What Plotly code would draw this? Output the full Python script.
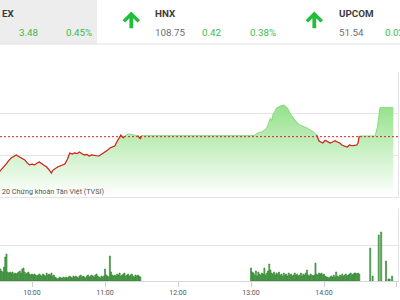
import plotly.graph_objects as go
import pandas as pd

DAY = "2020-06-01 "

# ---------------- data ----------------
ref_price = 773.24
price_times = [
    "09:33", "09:35", "09:37", "09:39", "09:41", "09:43", "09:45", "09:47", "09:48", "09:50",
    "09:52", "09:54", "09:56", "09:58", "10:00", "10:02", "10:04", "10:06", "10:08", "10:10",
    "10:12", "10:14", "10:15", "10:16", "10:17", "10:19", "10:21", "10:23", "10:25", "10:27",
    "10:29", "10:31", "10:33", "10:35", "10:37", "10:39", "10:41", "10:43", "10:45", "10:47",
    "10:49", "10:51", "10:53", "10:55", "10:57", "11:00", "11:02", "11:04", "11:06", "11:08",
    "11:10", "11:12", "11:13", "11:15", "11:16", "11:18", "11:20", "11:23", "11:27", "11:29",
    "11:30", "13:00", "13:03", "13:06", "13:09", "13:13", "13:15", "13:16", "13:17", "13:18",
    "13:20", "13:21", "13:24", "13:27", "13:29", "13:30", "13:32", "13:36", "13:40", "13:46",
    "13:51", "13:54", "13:56", "13:57", "13:59", "14:01", "14:02", "14:04", "14:05", "14:07",
    "14:09", "14:11", "14:13", "14:15", "14:17", "14:19", "14:21", "14:23", "14:25", "14:27",
    "14:28", "14:29", "14:42", "14:44", "14:46", "14:57",
]
price_values = [
    769.00, 769.30, 769.64, 770.00, 770.40, 770.70, 770.85, 771.05, 770.95, 770.80,
    770.60, 770.45, 770.10, 769.85, 769.95, 769.85, 770.05, 770.20, 770.00, 769.85,
    769.60, 769.25, 769.05, 768.88, 769.20, 769.45, 769.60, 769.72, 769.85, 769.96,
    770.50, 771.28, 771.15, 771.28, 771.20, 771.40, 771.20, 771.04, 771.10, 770.92,
    771.05, 771.04, 770.95, 770.92, 771.10, 771.40, 771.60, 771.88, 772.00, 772.12,
    772.70, 773.20, 773.44, 773.10, 773.30, 773.50, 773.56, 773.44, 773.38, 772.96,
    773.36, 773.36, 773.40, 773.72, 773.80, 774.28, 775.00, 775.48, 775.12, 775.84,
    776.40, 776.68, 776.92, 777.04, 776.80, 776.68, 776.08, 775.24, 774.64, 774.28,
    773.84, 773.44, 772.70, 772.64, 772.48, 772.80, 772.72, 772.55, 772.48, 772.60,
    772.75, 772.60, 772.48, 772.20, 772.10, 772.00, 772.24, 772.15, 772.20, 772.24,
    772.48, 773.32, 773.32, 774.44, 776.72, 776.72,
]

vol_morning = [
    12, 10, 9, 14, 24, 27, 9, 8, 9, 8,
    9, 7, 8, 7, 8, 9, 10, 8, 12, 13,
    9, 7, 8, 9, 7, 6, 7, 6, 7, 6,
    5, 6, 7, 6, 5, 7, 6, 5, 8, 6,
    7, 6, 8, 5, 6, 4, 3, 2, 3, 4,
    3, 3, 4, 3, 4, 3, 4, 5, 4, 3,
    5, 4, 5, 4, 3, 5, 6, 4, 5, 4,
    3, 5, 6, 4, 5, 6, 5, 4, 6, 7,
    5, 4, 3, 5, 4, 5, 12, 6, 5, 4,
    25, 9, 6, 5, 6, 5, 7, 6, 8, 5,
    6, 7, 8, 5, 6, 7, 5, 6, 7, 5,
    4, 6, 5, 6, 5, 4,
]
vol_afternoon = [
    13, 9, 8, 6, 10, 5, 9, 7, 6, 8,
    7, 13, 6, 8, 10, 17, 11, 8, 7, 9,
    6, 8, 7, 9, 6, 7, 5, 8, 6, 7,
    5, 8, 6, 7, 5, 6, 8, 6, 7, 5,
    6, 8, 5, 7, 6, 8, 11, 6, 5, 7,
    6, 5, 6, 18, 7, 6, 8, 7, 8, 6,
    7, 5, 4, 4, 3, 4, 5, 4, 6, 4,
    9, 5, 4, 6, 5, 7, 5, 6, 7, 5,
    6, 7, 8, 6, 7, 8, 8, 7, 8, 7,
]
atc_times = ["14:38", "14:40", "14:45", "14:47", "14:51", "14:53", "14:54", "14:56"]
atc_values = [33, 5, 46, 49, 20, 2, 2, 5]

tick_times = ["10:00", "11:00", "12:00", "13:00", "14:00", "15:00"]

# header
hdr_left = {"name": "EX", "change": "3.48", "pct": "0.45%"}
hdr_hnx = {"name": "HNX", "value": "108.75", "change": "0.42", "pct": "0.38%"}
hdr_upcom = {"name": "UPCOM", "value": "51.54", "change": "0.02"}
copyright_text = "20 Chứng khoán Tân Việt (TVSI)"

# ---------------- build ----------------
W, H = 400, 300
px = lambda x: x / W
py = lambda y: 1 - y / H

px_x = [DAY + t for t in price_times]

# red segments where price is below reference
red_x, red_y = [], []
n = len(price_values)
for i in range(n - 1):
    a, b = price_values[i], price_values[i + 1]
    if a < ref_price - 0.005 or b < ref_price - 0.005:
        if not (red_x and red_x[-1] == px_x[i]):
            if red_x:
                red_x.append(None); red_y.append(None)
            red_x.append(px_x[i]); red_y.append(a)
        red_x.append(px_x[i + 1]); red_y.append(b)

m_times = pd.date_range(DAY + "09:34", periods=len(vol_morning), freq="1min")
a_times = pd.date_range(DAY + "13:00", periods=len(vol_afternoon), freq="1min")
vol_x = list(m_times) + list(a_times) + [pd.Timestamp(DAY + t) for t in atc_times]
vol_y = vol_morning + vol_afternoon + atc_values

fig = go.Figure()

fig.add_trace(go.Scatter(
    x=px_x, y=price_values, mode="lines", fill="tozeroy",
    line=dict(color="rgb(135,218,125)", width=1),
    fillgradient=dict(type="vertical",
                      colorscale=[[0, "rgb(255,255,255)"], [1, "rgb(148,225,138)"]],
                      start=766, stop=777),
    xaxis="x", yaxis="y", hoverinfo="skip", showlegend=False,
))
fig.add_trace(go.Scatter(
    x=red_x, y=red_y, mode="lines", connectgaps=False,
    line=dict(color="rgb(218,32,32)", width=1.2),
    xaxis="x", yaxis="y", hoverinfo="skip", showlegend=False,
))
fig.add_trace(go.Bar(
    x=vol_x, y=vol_y, width=52000,
    marker=dict(color="rgb(104,186,98)", line=dict(color="rgb(38,120,40)", width=0.6)),
    xaxis="x2", yaxis="y2", hoverinfo="skip", showlegend=False,
))

xr = [DAY + "09:33:40", DAY + "15:00:50"]
grid = "rgb(228,228,228)"

fig.update_layout(
    width=W, height=H, autosize=False,
    margin=dict(l=0, r=0, t=0, b=0),
    paper_bgcolor="white", plot_bgcolor="white",
    font=dict(family="Roboto", color="#555"),
    bargap=0,
    xaxis=dict(domain=[0, 398 / W], range=xr, type="date", showticklabels=False,
               showgrid=False, showline=True, linecolor=grid, zeroline=False,
               anchor="y", fixedrange=True, automargin=False),
    yaxis=dict(domain=[py(197), py(72)], range=[766, 781], tick0=766, dtick=5,
               showticklabels=False, gridcolor=grid, showline=True, linecolor=grid,
               side="right", zeroline=False, anchor="x", automargin=False),
    xaxis2=dict(domain=[0, 398 / W], range=xr, type="date", matches="x",
                tickvals=[DAY + t for t in tick_times], ticktext=tick_times,
                ticks="outside", ticklen=5, tickcolor="rgb(205,205,205)",
                tickfont=dict(size=7, color="#555", family="Roboto"),
                showgrid=False, showline=True, linecolor="rgb(215,215,215)",
                zeroline=False, anchor="y2", automargin=False),
    yaxis2=dict(domain=[py(281), py(209)], range=[0, 72], dtick=36,
                showticklabels=False, gridcolor=grid, showline=True, linecolor=grid,
                side="right", zeroline=False, anchor="x2", automargin=False),
)

shapes = [
    dict(type="rect", xref="paper", yref="paper", x0=0, x1=px(97), y0=py(44), y1=1,
         fillcolor="rgb(237,237,237)", line=dict(width=0), layer="below"),
    dict(type="line", xref="paper", yref="paper", x0=0, x1=1, y0=py(44), y1=py(44),
         line=dict(color="rgb(226,226,226)", width=1)),
    dict(type="line", xref="paper", yref="y", x0=0, x1=px(398), y0=ref_price, y1=ref_price,
         line=dict(color="rgb(214,40,40)", width=1, dash="2px,2px")),
]


def arrow(cx):
    pts = [(0, 11.5), (8.7, 20.2), (6.2, 22.5), (1.9, 18.2), (1.9, 28.3), (-1.9, 28.3),
           (-1.9, 18.2), (-6.2, 22.5), (-8.7, 20.2)]
    d = "M " + " L ".join(f"{px(cx + dx):.5f},{py(dy):.5f}" for dx, dy in pts) + " Z"
    return dict(type="path", xref="paper", yref="paper", path=d,
                fillcolor="rgb(32,190,58)", line=dict(width=0))


shapes += [arrow(131.3), arrow(314.3)]
fig.update_layout(shapes=shapes)

green = "rgb(60,186,76)"
dark = "rgb(60,60,60)"
grey = "rgb(110,110,110)"


def txt(x, y, s, color, bold=False, size=9.8):
    return dict(xref="paper", yref="paper", x=px(x), y=py(y), text=(f"<b>{s}</b>" if bold else s),
                showarrow=False, xanchor="left", yanchor="middle",
                font=dict(family="Roboto", size=size, color=color))


ann = [
    txt(-0.5, 14, hdr_left["name"], dark, bold=True),
    txt(17, 33, hdr_left["change"], green),
    txt(64, 33, hdr_left["pct"], green),
    txt(153, 14, hdr_hnx["name"], dark, bold=True),
    txt(153, 33, hdr_hnx["value"], grey),
    txt(200, 33, hdr_hnx["change"], green),
    txt(248, 33, hdr_hnx["pct"], green),
    txt(336.5, 14, hdr_upcom["name"], dark, bold=True),
    txt(336.5, 33, hdr_upcom["value"], grey),
    txt(382.5, 33, hdr_upcom["change"], green),
    txt(-0.5, 191.5, copyright_text, "rgb(85,85,85)", size=7.2),
]
fig.update_layout(annotations=ann)

fig.write_html("out.html", config={"displayModeBar": False, "staticPlot": True})
